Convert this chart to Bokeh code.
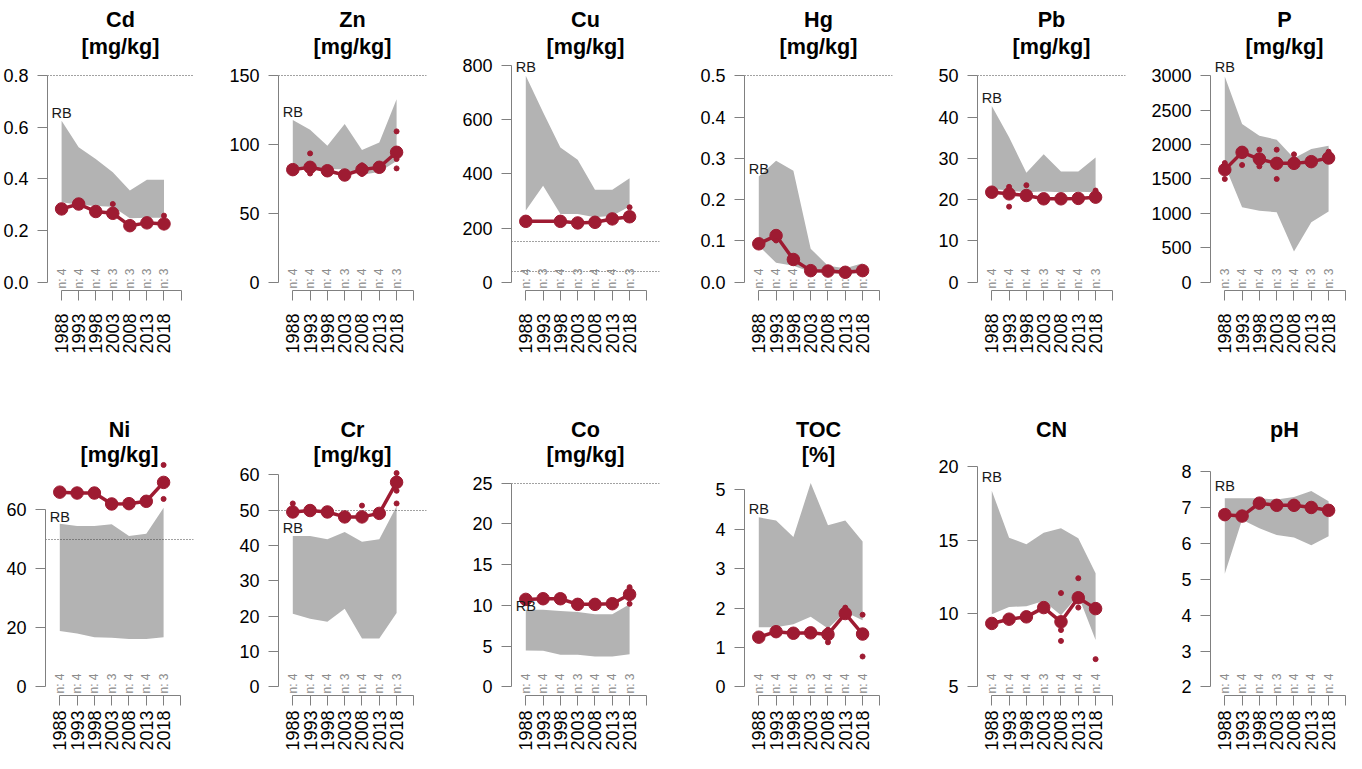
import math
from bokeh.plotting import figure
from bokeh.models import FixedTicker, Range1d, NumeralTickFormatter
from bokeh.layouts import row, column
from bokeh.embed import file_html
from bokeh.resources import INLINE
from bokeh.core.properties import value

years = [1988, 1993, 1998, 2003, 2008, 2013, 2018]
axis_years = [1988, 1993, 1998, 2003, 2008, 2013, 2018, 2023]

# ---- Cd ----
cd_upper = [0.626, 0.523, 0.477, 0.426, 0.355, 0.397, 0.397]
cd_lower = [0.31, 0.30, 0.295, 0.292, 0.248, 0.25, 0.25]
cd_mean = [0.284, 0.303, 0.274, 0.267, 0.219, 0.23, 0.226]
cd_sx = [2003, 2018]
cd_sy = [0.303, 0.258]
cd_n = [4, 4, 4, 3, 3, 3, 3]
cd_thr = [0.8]
cd_ticks = [0.0, 0.2, 0.4, 0.6, 0.8]
cd_rb = 0.654
# ---- Zn ----
zn_upper = [117.8, 110.8, 99.2, 114.9, 96.0, 101.6, 133.0]
zn_lower = [84, 83, 82, 82, 78, 80, 88]
zn_mean = [81.8, 83.5, 81.0, 77.9, 81.8, 83.5, 94.4]
zn_sx = [1993, 1993, 1998, 2008, 2008, 2018, 2018, 2018]
zn_sy = [93.6, 79.0, 78.6, 85.0, 78.6, 109.6, 82.7, 89.5]
zn_n = [4, 4, 4, 3, 4, 4, 3]
zn_thr = [150]
zn_ticks = [0, 50, 100, 150]
zn_rb = 123.4
# ---- Cu ----
cu_upper = [763, 628, 498, 453, 342, 342, 384]
cu_lower = [265, 357, 252, 252, 240, 246, 280]
cu_mean = [225, float("nan"), 225, 219, 221.5, 234, 242]
cu_sx = [2018]
cu_sy = [277]
cu_n = [4, 3, 4, 3, 4, 4, 3]
cu_thr = [150, 40]
cu_ticks = [0, 200, 400, 600, 800]
cu_rb = 794
# ---- Hg ----
hg_upper = [0.256, 0.294, 0.27, 0.081, 0.04, 0.034, 0.046]
hg_lower = [0.088, 0.047, 0.04, 0.025, 0.022, 0.02, 0.022]
hg_mean = [0.093, 0.113, 0.055, 0.028, 0.027, 0.024, 0.028]
hg_sx = [1993]
hg_sy = [0.101]
hg_n = [4, 4, 4, 3, 4, 4, 3]
hg_thr = [0.5]
hg_ticks = [0.0, 0.1, 0.2, 0.3, 0.4, 0.5]
hg_rb = 0.274
# ---- Pb ----
pb_upper = [42.7, 35.1, 26.5, 31.0, 26.8, 26.8, 30.2]
pb_lower = [22.6, 22.2, 21.8, 22.0, 21.8, 21.9, 21.8]
pb_mean = [21.8, 21.4, 21.0, 20.2, 20.2, 20.3, 20.6]
pb_sx = [1993, 1993, 1998, 2018]
pb_sy = [23.1, 18.3, 23.5, 22.2]
pb_n = [4, 4, 4, 3, 4, 4, 3]
pb_thr = [50]
pb_ticks = [0, 10, 20, 30, 40, 50]
pb_rb = 44.5
# ---- P ----
p_upper = [2990, 2298, 2129, 2071, 1800, 1935, 1984]
p_lower = [1700, 1089, 1040, 1016, 445, 871, 1026]
p_mean = [1635, 1887, 1790, 1727, 1727, 1752, 1805]
p_sx = [1988, 1988, 1993, 1998, 1998, 2003, 2003, 2008, 2018]
p_sy = [1500, 1732, 1703, 1926, 1684, 1926, 1500, 1858, 1897]
p_n = [3, 4, 4, 3, 4, 3, 3]
p_thr = []
p_ticks = [0, 500, 1000, 1500, 2000, 2500, 3000]
p_rb = 3121
# ---- Ni ----
ni_upper = [55.2, 54.4, 54.4, 55.0, 51.1, 51.8, 60.6]
ni_lower = [18.9, 18.1, 16.8, 16.6, 16.2, 16.2, 16.8]
ni_mean = [65.9, 65.6, 65.6, 61.9, 62.0, 62.8, 69.2]
ni_sx = [2018, 2018]
ni_sy = [75.1, 63.6]
ni_n = [4, 4, 4, 3, 4, 4, 3]
ni_thr = [50]
ni_ticks = [0, 20, 40, 60]
ni_rb = 57.4
# ---- Cr ----
cr_upper = [42.7, 42.7, 41.8, 43.8, 41.1, 41.8, 51.1]
cr_lower = [20.7, 19.3, 18.4, 22.1, 13.7, 13.7, 20.9]
cr_mean = [49.5, 49.9, 49.5, 48.1, 48.1, 49.1, 57.9]
cr_sx = [1988, 2008, 2018, 2018, 2018, 2018]
cr_sy = [51.9, 51.3, 60.5, 51.9, 55.5, 59.0]
cr_n = [4, 4, 4, 3, 4, 4, 3]
cr_thr = [50]
cr_ticks = [0, 10, 20, 30, 40, 50, 60]
cr_rb = 44.9
# ---- Co ----
co_upper = [9.48, 9.48, 9.32, 9.2, 8.91, 8.91, 10.13]
co_lower = [4.46, 4.42, 3.93, 3.93, 3.73, 3.73, 4.01]
co_mean = [10.74, 10.82, 10.82, 10.13, 10.13, 10.21, 11.35]
co_sx = [2018, 2018]
co_sy = [12.24, 10.2]
co_n = [4, 4, 4, 3, 4, 4, 3]
co_thr = [25]
co_ticks = [0, 5, 10, 15, 20, 25]
co_rb = 9.89
# ---- TOC ----
toc_upper = [4.30, 4.22, 3.80, 5.17, 4.10, 4.22, 3.69]
toc_lower = [1.51, 1.51, 1.59, 1.78, 1.48, 1.9, 1.69]
toc_mean = [1.26, 1.40, 1.36, 1.37, 1.33, 1.86, 1.34]
toc_sx = [2008, 2008, 2013, 2018, 2018]
toc_sy = [1.13, 1.45, 2.01, 1.83, 0.77]
toc_n = [4, 4, 4, 3, 4, 4, 4]
toc_thr = []
toc_ticks = [0, 1, 2, 3, 4, 5]
toc_rb = 4.50
# ---- CN ----
cn_upper = [18.36, 15.16, 14.71, 15.5, 15.8, 15.12, 12.74]
cn_lower = [9.95, 10.44, 10.49, 10.85, 9.88, 11.23, 8.19]
cn_mean = [9.32, 9.61, 9.77, 10.4, 9.43, 11.07, 10.33]
cn_sx = [2008, 2008, 2008, 2013, 2013, 2018]
cn_sy = [11.39, 8.87, 8.13, 12.4, 10.4, 6.89]
cn_n = [4, 4, 4, 3, 4, 4, 4]
cn_thr = []
cn_ticks = [5, 10, 15, 20]
cn_rb = 19.26
# ---- pH ----
ph_upper = [7.26, 7.26, 7.26, 7.22, 7.29, 7.46, 7.17]
ph_lower = [5.15, 6.66, 6.42, 6.23, 6.16, 5.95, 6.2]
ph_mean = [6.80, 6.76, 7.12, 7.06, 7.06, 7.0, 6.92]
ph_sx = []
ph_sy = []
ph_n = [4, 4, 4, 3, 4, 4, 4]
ph_thr = []
ph_ticks = [2, 3, 4, 5, 6, 7, 8]
ph_rb = 7.60

# (title lines, band upper, band lower, means, single x, single y, n, guide values, ticks, RB y, value range of the plot area, tick format)
panels = [
    (["Cd", "[mg/kg]"], cd_upper, cd_lower, cd_mean, cd_sx, cd_sy, cd_n, cd_thr, cd_ticks, cd_rb, (-0.0321, 0.8514), "0.0"),
    (["Zn", "[mg/kg]"], zn_upper, zn_lower, zn_mean, zn_sx, zn_sy, zn_n, zn_thr, zn_ticks, zn_rb, (-6.02, 159.65), "0"),
    (["Cu", "[mg/kg]"], cu_upper, cu_lower, cu_mean, cu_sx, cu_sy, cu_n, cu_thr, cu_ticks, cu_rb, (-30.6, 812.1), "0"),
    (["Hg", "[mg/kg]"], hg_upper, hg_lower, hg_mean, hg_sx, hg_sy, hg_n, hg_thr, hg_ticks, hg_rb, (-0.0201, 0.5322), "0.0"),
    (["Pb", "[mg/kg]"], pb_upper, pb_lower, pb_mean, pb_sx, pb_sy, pb_n, pb_thr, pb_ticks, pb_rb, (-2.01, 53.22), "0"),
    (["P", "[mg/kg]"], p_upper, p_lower, p_mean, p_sx, p_sy, p_n, p_thr, p_ticks, p_rb, (-120.5, 3193), "0"),
    (["Ni", "[mg/kg]"], ni_upper, ni_lower, ni_mean, ni_sx, ni_sy, ni_n, ni_thr, ni_ticks, ni_rb, (-2.92, 75.53), "0"),
    (["Cr", "[mg/kg]"], cr_upper, cr_lower, cr_mean, cr_sx, cr_sy, cr_n, cr_thr, cr_ticks, cr_rb, (-2.44, 63.16), "0"),
    (["Co", "[mg/kg]"], co_upper, co_lower, co_mean, co_sx, co_sy, co_n, co_thr, co_ticks, co_rb, (-1.06, 27.4), "0"),
    (["TOC", "[%]"], toc_upper, toc_lower, toc_mean, toc_sx, toc_sy, toc_n, toc_thr, toc_ticks, toc_rb, (-0.219, 5.661), "0"),
    (["CN"], cn_upper, cn_lower, cn_mean, cn_sx, cn_sy, cn_n, cn_thr, cn_ticks, cn_rb, (4.413, 20.20), "0"),
    (["pH"], ph_upper, ph_lower, ph_mean, ph_sx, ph_sy, ph_n, ph_thr, ph_ticks, ph_rb, (1.76, 8.22), "0"),
]

RED = "#9E1B32"
BAND = "#B3B3B3"
AXC = "#808080"
NCOL = "#8C8C8C"
FONT = "Liberation Sans"
X0 = 1983.87
PX_PER_YEAR = 3.46
TITLE_DX = 74  # title centred over the 148 px plot area

# page geometry of the two rows
ROWS = [
    dict(fig_top=8, h=377, region_top=70, bottom=298, bb=87, tick=10, standoff=13, title_y=[27, 54]),
    dict(fig_top=385, h=376, region_top=472, bottom=706, bb=55, tick=10, standoff=5, title_y=[437, 463]),
]


def build(idx, spec):
    title, up, lo, mean, sx, sy, n, thr, ticks, rb, yr, fmt = spec
    col = idx % 6
    g = ROWS[idx // 6]
    left = 45 if col == 0 else 75
    right = 0 if col == 5 else 10
    fw = 148 if col < 5 else 136
    # extend the value range up to the top of the figure so titles can sit in the plot area
    k = (g["bottom"] - g["region_top"]) / (yr[1] - yr[0])
    y_top = yr[1] + (g["region_top"] - g["fig_top"]) / k
    p = figure(width=left + fw + right, height=g["h"],
               x_range=Range1d(X0, X0 + fw / PX_PER_YEAR),
               y_range=Range1d(yr[0], y_top),
               output_backend="svg", toolbar_location=None,
               min_border_left=left, min_border_right=right,
               min_border_top=0, min_border_bottom=g["bb"])
    p.outline_line_color = None
    p.grid.visible = False
    p.background_fill_color = "white"
    p.border_fill_color = "white"

    xa = p.xaxis[0]
    xa.ticker = FixedTicker(ticks=axis_years)
    xa.bounds = (axis_years[0], axis_years[-1])
    xa.major_label_overrides = {2023: ""}
    xa.major_label_orientation = math.pi / 2
    xa.major_tick_out = g["tick"]
    xa.major_label_standoff = g["standoff"]
    ya = p.yaxis[0]
    ya.ticker = FixedTicker(ticks=ticks)
    ya.bounds = (ticks[0], ticks[-1])
    ya.formatter = NumeralTickFormatter(format=fmt)
    ya.major_tick_out = 10
    ya.major_label_standoff = 9
    for ax in (xa, ya):
        ax.axis_line_color = AXC
        ax.major_tick_line_color = AXC
        ax.minor_tick_line_color = None
        ax.major_tick_in = 0
        ax.major_label_text_font = FONT
        ax.major_label_text_font_size = "18px"
        ax.major_label_text_color = "black"

    p.varea(x=years, y1=lo, y2=up, fill_color=BAND, fill_alpha=1.0)
    if thr:
        p.hspan(y=thr, line_color="#444444", line_dash="1 2", line_width=1)
    p.text(x=years, y=[yr[0]] * len(years), text=["n: %d" % v for v in n],
           angle=math.pi / 2, text_align="left", text_baseline="middle",
           y_offset=-2, text_font=value(FONT), text_font_size="12px",
           text_color=NCOL)
    lx = [x for x, m in zip(years, mean) if m == m]
    lm = [m for m in mean if m == m]
    p.line(x=lx, y=lm, line_color=RED, line_width=3.5)
    p.scatter(x=lx, y=lm, size=12.5, fill_color=RED, line_color=RED)
    if sx:
        p.scatter(x=sx, y=sy, size=5, fill_color=RED, line_color=RED)
    p.text(x=[years[0]], y=[rb], text=["RB"], text_align="center",
           text_baseline="middle", text_font=value(FONT),
           text_font_size="14.5px", text_color="#1a1a1a")

    # panel title (bold), placed in the upper, empty part of the plot area
    ty = [yr[1] + (g["region_top"] - t) / k for t in g["title_y"][:len(title)]]
    tx = X0 + TITLE_DX / PX_PER_YEAR
    p.text(x=[tx] * len(title), y=ty, text=title, text_align="center",
           text_baseline="middle", text_font=value(FONT), text_font_size="21.6px",
           text_font_style="bold", text_color="black")
    return p


figs = [build(i, s) for i, s in enumerate(panels)]
layout = column(row(*figs[:6]), row(*figs[6:]))
open("out.html", "w").write(file_html(layout, INLINE))
